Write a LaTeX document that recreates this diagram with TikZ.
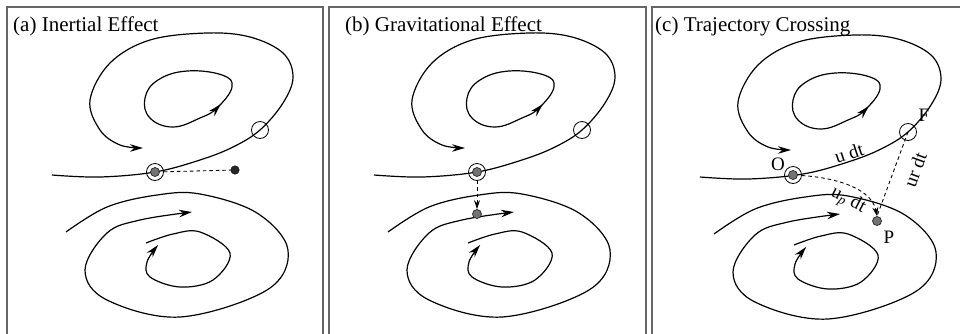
\documentclass[tikz,border=0pt]{standalone}
\usepackage{fontspec}
\setmainfont{Liberation Serif}
\usetikzlibrary{arrows.meta,decorations.markings}
\newcommand{\myflows}{%
 \draw[flow,tip] plot[smooth,tension=0.6] coordinates {(52,175) (100,177) (155,172) (200,160) (233,147) (260,130) (283,103) (293,77) (283,53) (250,37) (207,33) (150,40) (110,63) (90,100) (100,130) (120,145) (143,148)};
 \draw[flow, postaction={decorate}, decoration={markings, mark=at position 0.11 with {\arrow{Stealth[length=13pt,width=7.5pt]}}}] plot[smooth cycle,tension=0.7] coordinates {(173,127) (200,118) (217,108) (232,87) (222,75) (187,71) (158,80) (145,98) (150,118)};
 \draw[flow,tip] plot[smooth,tension=0.6] coordinates {(66,232) (107,207) (157,195) (200,194) (257,213) (288,250) (267,290) (180,317) (107,300) (85,270) (107,233) (140,220) (192,212)};
 \draw[flow,tip] plot[smooth,tension=0.6] coordinates {(146,243) (173,234) (200,232) (230,253) (213,280) (180,287) (150,277) (147,262) (158,245)};
}
\begin{document}
\begin{tikzpicture}[x=1pt,y=-1pt,
  flow/.style={line width=1.2pt},
  tip/.style={-{Stealth[length=13pt,width=7.5pt]}},
  smalltip/.style={-{Stealth[length=9pt,width=6pt]}},
  frame/.style={draw=black!60, line width=1.6pt},
  ring/.style={circle, draw, line width=0.8pt, minimum size=17pt, inner sep=0pt},
  graydot/.style={circle, draw=black!85, fill=black!55, line width=0.7pt, minimum size=9pt, inner sep=0pt},
  blackdot/.style={circle, draw=black, fill=black!85, minimum size=8.5pt, inner sep=0pt},
  title/.style={anchor=base west, font=\fontsize{21}{25}\selectfont, inner sep=0pt},
  lab/.style={font=\fontsize{19}{23}\selectfont, inner sep=0pt},
  dashline/.style={dash pattern=on 3.5pt off 3pt, line width=0.9pt}]
\useasboundingbox (0,0) rectangle (960,333);
\clip (0,0) rectangle (960,333);
\fill[white] (0,0) rectangle (960,333);
% frames
\draw[frame] (7,7) rectangle (323,345);
\draw[frame] (329,7) rectangle (646,345);
\draw[frame] (652,7) rectangle (975,345);
% titles
\node[title] (ta) at (13,31) {(a) Inertial Effect};
\node[title] (tb) at (345,31) {(b) Gravitational Effect};
\node[title] (tc) at (655,31) {(c) Trajectory Crossing};
% panel a
\begin{scope}
 \myflows
\end{scope}
\node[ring] (Ra) at (155,172) {};
\node[graydot] (Ga) at (155,172) {};
\node[ring] (Fa) at (260,130) {};
\node[blackdot] (Ba) at (235,170) {};
\draw[dashline] (Ra) -- (Ba);
% panel b
\begin{scope}[shift={(322,0)}]
 \myflows
\end{scope}
\node[ring] (Rb) at (477,172) {};
\node[graydot] (Gb) at (477,172) {};
\node[ring] (Fb) at (582,130) {};
\node[graydot] (Db) at (477,214) {};
\draw[dashline,smalltip] (Rb) -- (Db);
% panel c
\begin{scope}[shift={(648,2)}]
 \myflows
\end{scope}
\node[ring] (Rc) at (793,175) {};
\node[graydot] (Gc) at (793,175) {};
\node[ring] (Fc) at (908,132) {};
\node[graydot] (Pc) at (877,221) {};
\node[lab] (lO) at (778,164) {O};
\node[lab] (lF) at (924,115) {F};
\node[lab] (lP) at (889,237) {P};
\draw[dashline,smalltip] (Rc) .. controls (840,178) and (872,190) .. (Pc.north);
\draw[dashline] (Fc.center) -- (Pc.north);
\node[lab, rotate=18] (lu) at (849,153) {u dt};
\node[lab, rotate=-28] (lup) at (848,201) {u\textsubscript{\textit{p}} dt};
\node[lab, rotate=70] (lur) at (915,170) {ur dt};
\end{tikzpicture}
\end{document}
